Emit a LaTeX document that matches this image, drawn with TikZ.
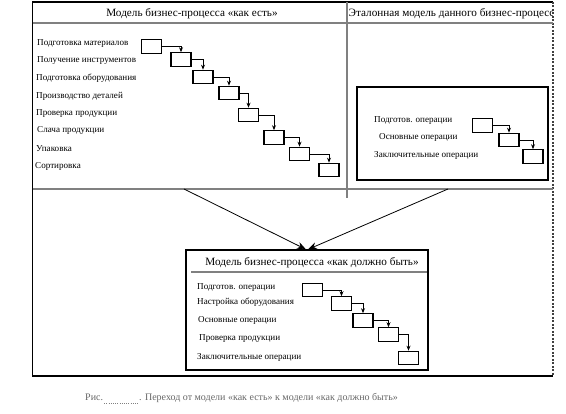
\documentclass[tikz,border=0pt]{standalone}
\usepackage{fontspec}
\setmainfont{Liberation Serif}
\usetikzlibrary{arrows.meta}
\begin{document}
\begin{tikzpicture}[x=1pt,y=-1pt,
  frame/.style={line width=1.2pt,black},
  sep/.style={line width=2pt,black!50},
  opbox/.style={draw,line width=1.1pt,minimum width=20pt,minimum height=13.5pt,inner sep=0pt},
  lbl/.style={anchor=west,inner sep=0pt,text height=6pt,text depth=2pt,font=\fontsize{9.1}{10}\selectfont},
  ttl/.style={inner sep=0pt,font=\fontsize{11.2}{13}\selectfont},
  flow/.style={line width=0.8pt,-{Stealth[length=5pt,width=4pt]}},
  big/.style={line width=0.8pt,-{Stealth[length=9pt,width=7pt]}},
  captxt/.style={inner sep=0pt,text=black!60,font=\fontsize{10}{12}\selectfont}]
\useasboundingbox (0,0) rectangle (566,414);
% outer frame
\draw[frame] (553,2) -- (32.5,2) -- (32.5,376) -- (553,376);
\draw[line width=1.2pt,black!75,dash pattern=on 2pt off 1.5pt] (553,2) -- (553,376);
\draw[sep] (32.5,23) -- (553,23);
\draw[sep] (32.5,189) -- (553,189);
\draw[sep] (347,2) -- (347,198);
% titles
\node[ttl] (t1) at (192,14) {Модель бизнес-процесса «как есть»};
\begin{scope}
\clip (348,3) rectangle (552,22);
\node[ttl,anchor=west] (t2) at (348.5,13.5) {Эталонная модель данного бизнес-процесса};
\end{scope}
% left panel
\node[lbl] (l1) at (37,44) {Подготовка материалов};
\node[lbl] (l2) at (37,61) {Получение инструментов};
\node[lbl] (l3) at (36,79) {Подготовка оборудования};
\node[lbl] (l4) at (36,97) {Производство деталей};
\node[lbl] (l5) at (36,114) {Проверка продукции};
\node[lbl] (l6) at (37,131) {Слача продукции};
\node[lbl] (l7) at (36,150) {Упаковка};
\node[lbl] (l8) at (35,167) {Сортировка};
\node[opbox] (a1) at (151.5,46.5) {};
\node[opbox] (a2) at (181,59.5) {};
\node[opbox] (a3) at (203,77) {};
\node[opbox] (a4) at (229,93) {};
\node[opbox] (a5) at (248.5,115) {};
\node[opbox] (a6) at (274,137.5) {};
\node[opbox] (a7) at (299.5,154) {};
\node[opbox] (a8) at (329,170) {};
\foreach \i/\j in {1/2,2/3,3/4,4/5,5/6,6/7,7/8}
  \draw[flow] (a\i.east) -| (a\j.north);
% right panel
\node[draw,frame,minimum width=191pt,minimum height=93pt,inner sep=0pt] (rb) at (452.5,133.5) {};
\node[lbl] (r1) at (374,121) {Подготов. операции};
\node[lbl] (r2) at (379,138) {Основные операции};
\node[lbl] (r3) at (374,156) {Заключительные операции};
\node[opbox] (c1) at (482.5,125.5) {};
\node[opbox] (c2) at (509,140) {};
\node[opbox] (c3) at (533,156.5) {};
\draw[flow] (c1.east) -| (c2.north);
\draw[flow] (c2.east) -| (c3.north);
% bottom panel
\node[draw,frame,minimum width=242pt,minimum height=120pt,inner sep=0pt] (bb) at (307,310) {};
\draw[sep] (191,272) -- (427,272);
\node[ttl] (t3) at (312,263) {Модель бизнес-процесса «как должно быть»};
\node[lbl] (m1) at (197,288) {Подготов. операции};
\node[lbl] (m2) at (197,303) {Настройка оборудования};
\node[lbl] (m3) at (198,321) {Основные операции};
\node[lbl] (m4) at (199,339) {Проверка продукции};
\node[lbl] (m5) at (197,358) {Заключительные операции};
\node[opbox] (d1) at (312.5,290) {};
\node[opbox] (d2) at (341.5,303.5) {};
\node[opbox] (d3) at (363,320.5) {};
\node[opbox] (d4) at (388.5,334.5) {};
\node[opbox] (d5) at (408.5,358) {};
\foreach \i/\j in {1/2,2/3,3/4,4/5}
  \draw[flow] (d\i.east) -| (d\j.north);
% big arrows
\coordinate (s1) at (184,189);
\coordinate (s2) at (448,189);
\draw[big] (s1) -- ([xshift=-1pt]bb.north);
\draw[big] (s2) -- ([xshift=1pt]bb.north);
% caption
\node[captxt,anchor=base west] (cap1) at (85,401) {Рис.};
\node[captxt,anchor=base west] (cap2) at (139,401) {. Переход от модели «как есть» к модели «как должно быть»};
\draw[black!50,line width=0.6pt,dash pattern=on 1pt off 1.2pt] ([xshift=1pt,yshift=-2.5pt]cap1.base east) -- ([yshift=-2.5pt]cap2.base west);
\end{tikzpicture}
\end{document}
